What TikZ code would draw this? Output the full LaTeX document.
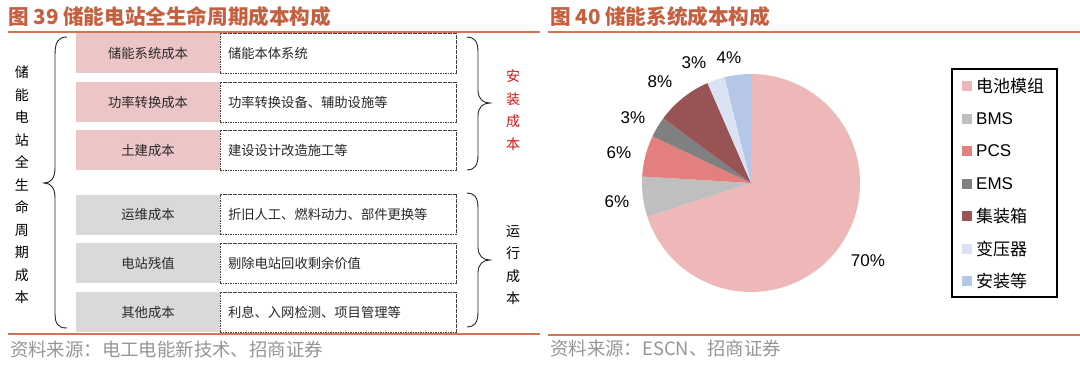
\documentclass[tikz,border=0pt]{standalone}
\usepackage{fontspec}
\setmainfont{Liberation Sans}
\newfontfamily\cjk{Noto Sans CJK SC}
\definecolor{titleC}{RGB}{196,96,64}
\definecolor{ruleC}{RGB}{212,116,86}
\definecolor{pinkbox}{RGB}{236,198,198}
\definecolor{graybox}{RGB}{217,217,217}
\definecolor{srcC}{RGB}{150,150,150}
\definecolor{txtC}{RGB}{40,40,40}
\definecolor{redC}{RGB}{220,20,20}
\definecolor{cBat}{RGB}{239,184,184}
\definecolor{cBMS}{RGB}{191,191,191}
\definecolor{cPCS}{RGB}{228,127,127}
\definecolor{cEMS}{RGB}{128,128,128}
\definecolor{cBox}{RGB}{152,84,84}
\definecolor{cTrf}{RGB}{218,226,243}
\definecolor{cIns}{RGB}{180,199,231}
\begin{document}
\begin{tikzpicture}[x=1pt,y=-1pt,
  titlestyle/.style={anchor=west,inner sep=0pt,text=titleC,font=\cjk\bfseries\fontsize{20.6}{24}\selectfont},
  srcstyle/.style={anchor=west,inner sep=0pt,text=srcC,font=\cjk\fontsize{18.4}{21}\selectfont},
  rulestyle/.style={draw=ruleC,line width=2pt},
  catbox/.style={minimum width=144pt,minimum height=40pt,inner sep=0pt,text=txtC,font=\cjk\fontsize{13.3}{16}\selectfont},
  pinkcat/.style={catbox,fill=pinkbox},
  graycat/.style={catbox,fill=graybox},
  descbox/.style={draw=black!75,dash pattern=on 1.6pt off 0.9pt,line width=0.8pt,minimum height=40pt,text width=220pt,inner xsep=8pt,inner ysep=0pt,align=left,text=txtC,font=\cjk\fontsize{13.3}{16}\selectfont},
  vtext/.style={align=center,inner sep=0pt,font=\cjk\fontsize{14}{22.5}\selectfont},
  bracestyle/.style={draw=black!85,line width=0.9pt},
  pct/.style={inner sep=0pt,font=\fontsize{17}{20}\selectfont},
  legtext/.style={anchor=west,inner sep=0pt,font=\fontsize{17}{20}\selectfont},
  legcj/.style={anchor=west,inner sep=0pt,font=\cjk\fontsize{17}{20}\selectfont},
  swatch/.style={minimum width=10pt,minimum height=10pt,inner sep=0pt}
]
\useasboundingbox (0,0) rectangle (1080,368);
\fill[white] (0,0) rectangle (1080,368);

% ---------------- Left panel ----------------
\node[titlestyle] (t39) at (8,17) {图 39 储能电站全生命周期成本构成};
\draw[rulestyle] (8,32) -- (540,32);
\draw[rulestyle] (8,334) -- (540,334);
\node[srcstyle] (s39) at (10,349) {资料来源：电工电能新技术、招商证券};

\node[pinkcat] (p1) at (148,53) {储能系统成本};
\node[pinkcat] (p2) at (148,102) {功率转换成本};
\node[pinkcat] (p3) at (148,150) {土建成本};
\node[graycat] (g1) at (148,214.5) {运维成本};
\node[graycat] (g2) at (148,263) {电站残值};
\node[graycat] (g3) at (148,312) {其他成本};

\node[descbox] (d1) at (338,53) {储能本体系统};
\node[descbox] (d2) at (338,102) {功率转换设备、辅助设施等};
\node[descbox] (d3) at (338,150) {建设设计改造施工等};
\node[descbox] (d4) at (338,214.5) {折旧人工、燃料动力、部件更换等};
\node[descbox] (d5) at (338,263) {剔除电站回收剩余价值};
\node[descbox] (d6) at (338,312) {利息、入网检测、项目管理等};

% left brace
\coordinate (lbT) at (67,37);
\coordinate (lbM) at (44,183);
\coordinate (lbB) at (67,328);
\draw[bracestyle] (lbT) .. controls (58,37) and (55,42) .. (55,55) -- (55,168)
  .. controls (55,178) and (51,183) .. (lbM)
  .. controls (51,183) and (55,188) .. (55,198) -- (55,313)
  .. controls (55,324) and (58,328) .. (lbB);
\node[vtext] (vl) at (22,185) {储\\能\\电\\站\\全\\生\\命\\周\\期\\成\\本};

% right brace 1
\coordinate (rb1T) at (467,37);
\coordinate (rb1M) at (490,103);
\coordinate (rb1B) at (467,170);
\draw[bracestyle] (rb1T) .. controls (474,37) and (478,41) .. (478,52) -- (478,90)
  .. controls (478,99) and (483,103) .. (rb1M)
  .. controls (483,103) and (478,107) .. (478,116) -- (478,155)
  .. controls (478,166) and (474,170) .. (rb1B);
\node[vtext,text=redC] (vr1) at (513,110) {安\\装\\成\\本};

% right brace 2
\coordinate (rb2T) at (467,193);
\coordinate (rb2M) at (490,260);
\coordinate (rb2B) at (467,327);
\draw[bracestyle] (rb2T) .. controls (474,193) and (478,197) .. (478,208) -- (478,247)
  .. controls (478,256) and (483,260) .. (rb2M)
  .. controls (483,260) and (478,264) .. (478,273) -- (478,312)
  .. controls (478,323) and (474,327) .. (rb2B);
\node[vtext] (vr2) at (513,265) {运\\行\\成\\本};

% ---------------- Right panel ----------------
\node[titlestyle] (t40) at (550,17) {图 40 储能系统成本构成};
\draw[rulestyle] (548,32) -- (1080,32);
\draw[rulestyle] (548,335) -- (1080,335);
\node[srcstyle] (s40) at (550,348) {资料来源：ESCN、招商证券};

% pie
\coordinate (pc) at (751,183);
\fill[cBat] (pc) -- ++(-162:109pt) arc[start angle=-162,end angle=90,radius=109pt] -- cycle;
\fill[cBMS] (pc) -- ++(176.6:109pt) arc[start angle=176.6,end angle=198,radius=109pt] -- cycle;
\fill[cPCS] (pc) -- ++(154.6:109pt) arc[start angle=154.6,end angle=176.6,radius=109pt] -- cycle;
\fill[cEMS] (pc) -- ++(143.5:109pt) arc[start angle=143.5,end angle=154.6,radius=109pt] -- cycle;
\fill[cBox] (pc) -- ++(113.5:109pt) arc[start angle=113.5,end angle=143.5,radius=109pt] -- cycle;
\fill[cTrf] (pc) -- ++(104:109pt) arc[start angle=104,end angle=113.5,radius=109pt] -- cycle;
\fill[cIns] (pc) -- ++(90:109pt) arc[start angle=90,end angle=104,radius=109pt] -- cycle;

\node[pct] (l70) at (868,261) {70\%};
\node[pct] (l6a) at (617,202) {6\%};
\node[pct] (l6b) at (619,153) {6\%};
\node[pct] (l3a) at (633,118) {3\%};
\node[pct] (l8) at (660,82) {8\%};
\node[pct] (l3b) at (694,63) {3\%};
\node[pct] (l4) at (729,58) {4\%};

% legend
\draw[line width=1.2pt] (952,69) rectangle (1057,297);
\node[swatch,fill=cBat] (k1) at (967,86) {};
\node[legcj] (n1) at (976,86) {电池模组};
\node[swatch,fill=cBMS] (k2) at (967,118.5) {};
\node[legtext] (n2) at (976,118.5) {BMS};
\node[swatch,fill=cPCS] (k3) at (967,151) {};
\node[legtext] (n3) at (976,151) {PCS};
\node[swatch,fill=cEMS] (k4) at (967,183.5) {};
\node[legtext] (n4) at (976,183.5) {EMS};
\node[swatch,fill=cBox] (k5) at (967,216) {};
\node[legcj] (n5) at (976,216) {集装箱};
\node[swatch,fill=cTrf] (k6) at (967,248.5) {};
\node[legcj] (n6) at (976,248.5) {变压器};
\node[swatch,fill=cIns] (k7) at (967,281) {};
\node[legcj] (n7) at (976,281) {安装等};
\end{tikzpicture}
\end{document}
